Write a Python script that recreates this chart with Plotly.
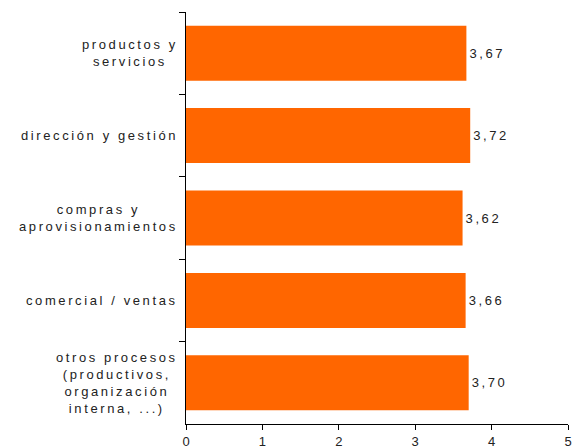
import plotly.graph_objects as go

# Evaluation scores by business area (0-5 scale)
categories = [
    "productos y<br>servicios",
    "dirección y gestión",
    "compras y<br>aprovisionamientos",
    "comercial / ventas",
    "otros procesos<br>(productivos,<br>organización<br>interna, ...)",
]
values = [3.67, 3.72, 3.62, 3.66, 3.70]
x_ticks = [0, 1, 2, 3, 4, 5]

BAR_COLOR = "#FF6600"
TEXT_COLOR = "#222222"
FONT = "Liberation Sans, Arial, sans-serif"
SPACING = "letter-spacing:2.6px"


def spaced(label):
    """Wrap each line of a label in a letter-spaced span."""
    return "<br>".join(
        f'<span style="{SPACING}">{line}</span>' for line in label.split("<br>")
    )


y_keys = [f"c{i}" for i in range(len(categories))]

fig = go.Figure(
    go.Bar(
        x=values,
        y=y_keys,
        orientation="h",
        marker=dict(color=BAR_COLOR, line=dict(width=0)),
        texttemplate=f'<span style="{SPACING}">%{{x:.2f}}</span>',
        textposition="outside",
        textfont=dict(family=FONT, size=13, color=TEXT_COLOR),
        cliponaxis=False,
        hoverinfo="skip",
    )
)

# Category labels: right-aligned blocks with centred lines
for key, label in zip(y_keys, categories):
    fig.add_annotation(
        x=0,
        xref="paper",
        y=key,
        yref="y",
        xanchor="right",
        yanchor="middle",
        xshift=-6,
        align="center",
        showarrow=False,
        text=spaced(label),
        font=dict(family=FONT, size=13, color=TEXT_COLOR),
    )

fig.update_layout(
    template="none",
    width=576,
    height=448,
    margin=dict(l=186, r=8, t=12, b=24, autoexpand=False),
    paper_bgcolor="white",
    plot_bgcolor="white",
    separators=",.",
    bargap=0.333,
    showlegend=False,
    font=dict(family=FONT, size=13, color=TEXT_COLOR),
)

fig.update_xaxes(
    range=[0, 5],
    tickvals=x_ticks,
    ticktext=[str(t) for t in x_ticks],
    automargin=False,
    showgrid=False,
    zeroline=False,
    showline=True,
    linecolor="black",
    linewidth=1,
    ticks="outside",
    ticklen=5,
    tickcolor="black",
    tickfont=dict(family=FONT, size=13, color=TEXT_COLOR),
)

fig.update_yaxes(
    type="category",
    categoryorder="array",
    categoryarray=y_keys,
    autorange="reversed",
    automargin=False,
    tickson="boundaries",
    showticklabels=False,
    showgrid=False,
    zeroline=False,
    showline=True,
    linecolor="black",
    linewidth=1,
    ticks="outside",
    ticklen=6,
    tickcolor="black",
)

fig.write_html("out.html")
